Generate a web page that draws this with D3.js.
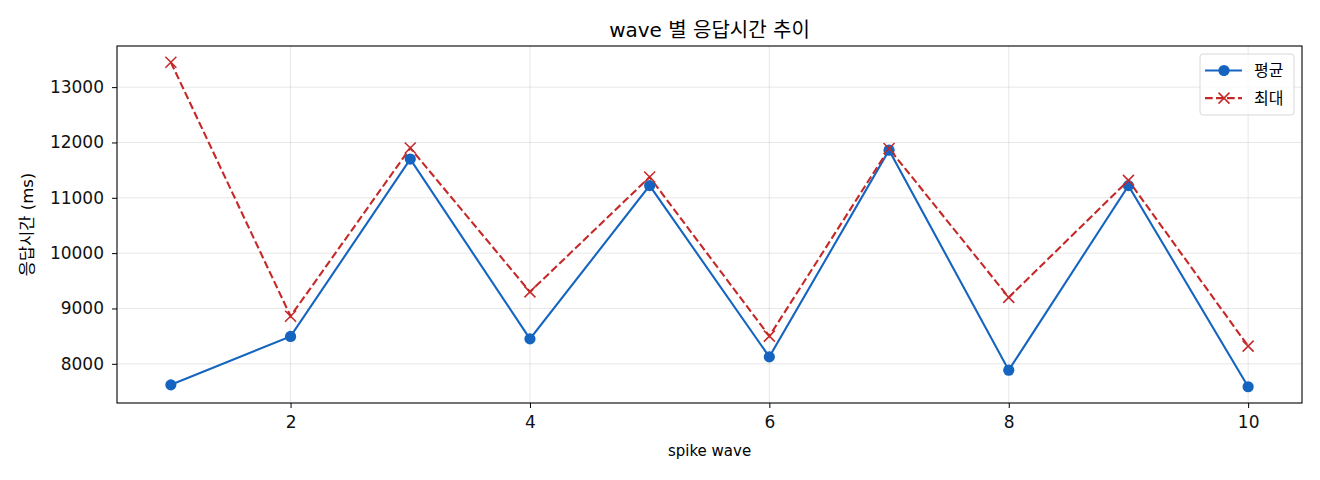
<!DOCTYPE html>
<meta charset="utf-8">
<head>
<style>
  body { margin: 0; background: #fff; }
  text { font-family: "DejaVu Sans", "Noto Sans CJK KR", sans-serif; fill: #000; }
  .axis path, .axis line { stroke: #000; }
  .axis text { font-size: 17px; fill: #111; }
</style>
</head>
<body>
<script src="https://cdnjs.cloudflare.com/ajax/libs/d3/7.8.5/d3.min.js"></script>
<script>

const waves = [1, 2, 3, 4, 5, 6, 7, 8, 9, 10];
const avgMs = [7620, 8495, 11700, 8450, 11220, 8125, 11860, 7885, 11220, 7585];
const maxMs = [13450, 8860, 11900, 9300, 11375, 8500, 11890, 9200, 11315, 8320];
const xTicks = [2, 4, 6, 8, 10];
const yTicks = [8000, 9000, 10000, 11000, 12000, 13000];
const seriesNames = ["평균", "최대"];

const W = 1320, H = 480;
const margin = {top: 46, right: 18, bottom: 77, left: 117};
const width = W - margin.left - margin.right,
      height = H - margin.top - margin.bottom;

const blue = "#1565c0", red = "#c62828";

// matplotlib style 5% margins
const xPad = (d3.max(waves) - d3.min(waves)) * 0.05;
const allY = avgMs.concat(maxMs);
const yPad = (d3.max(allY) - d3.min(allY)) * 0.05;

const x = d3.scaleLinear()
  .domain([d3.min(waves) - xPad, d3.max(waves) + xPad])
  .range([0, width]);
const y = d3.scaleLinear()
  .domain([d3.min(allY) - yPad, d3.max(allY) + yPad])
  .range([height, 0]);

const svg = d3.select("body").append("svg")
  .attr("width", W)
  .attr("height", H);

const g = svg.append("g")
  .attr("transform", "translate(" + margin.left + "," + margin.top + ")");

// grid
g.append("g").selectAll("line").data(yTicks).join("line")
  .attr("x1", 0).attr("x2", width)
  .attr("y1", d => y(d)).attr("y2", d => y(d))
  .attr("stroke", "#b0b0b0").attr("stroke-opacity", 0.3).attr("stroke-width", 1);
g.append("g").selectAll("line").data(xTicks).join("line")
  .attr("y1", 0).attr("y2", height)
  .attr("x1", d => x(d)).attr("x2", d => x(d))
  .attr("stroke", "#b0b0b0").attr("stroke-opacity", 0.3).attr("stroke-width", 1);

// axes
const xAxis = d3.axisBottom(x).tickValues(xTicks).tickSize(5).tickPadding(8).tickFormat(d3.format("d"));
const yAxis = d3.axisLeft(y).tickValues(yTicks).tickSize(5).tickPadding(8).tickFormat(d3.format("d"));

g.append("g").attr("class", "axis")
  .attr("transform", "translate(0," + height + ")")
  .call(xAxis)
  .call(s => s.select(".domain").remove())
  .selectAll("text").attr("font-size", null).attr("font-family", null).attr("fill", null);

g.append("g").attr("class", "axis")
  .call(yAxis)
  .call(s => s.select(".domain").remove())
  .selectAll("text").attr("font-size", null).attr("font-family", null).attr("fill", null);

// frame
g.append("rect")
  .attr("width", width).attr("height", height)
  .attr("fill", "none").attr("stroke", "#000").attr("stroke-width", 1.1);

// lines
const line = d3.line().x((d, i) => x(waves[i])).y(d => y(d));

g.append("path").datum(avgMs)
  .attr("d", line).attr("fill", "none")
  .attr("stroke", blue).attr("stroke-width", 2.1);

g.append("path").datum(maxMs)
  .attr("d", line).attr("fill", "none")
  .attr("stroke", red).attr("stroke-width", 2.1)
  .attr("stroke-dasharray", "7.7,3.3");

g.append("g").selectAll("circle").data(avgMs).join("circle")
  .attr("cx", (d, i) => x(waves[i])).attr("cy", d => y(d))
  .attr("r", 5.6).attr("fill", blue);

const cross = 5.5;
g.append("g").selectAll("path").data(maxMs).join("path")
  .attr("d", (d, i) => {
    const cx = x(waves[i]), cy = y(d);
    return `M${cx - cross},${cy - cross}L${cx + cross},${cy + cross}M${cx - cross},${cy + cross}L${cx + cross},${cy - cross}`;
  })
  .attr("stroke", red).attr("stroke-width", 1.5).attr("fill", "none");

// titles
svg.append("text")
  .attr("x", margin.left + width / 2).attr("y", 37)
  .attr("text-anchor", "middle").style("font-size", "20px")
  .text("wave 별 응답시간 추이");

svg.append("text")
  .attr("x", margin.left + width / 2).attr("y", 456)
  .attr("text-anchor", "middle").style("font-size", "15px")
  .text("spike wave");

svg.append("text")
  .attr("transform", "translate(33," + (margin.top + height / 2) + ") rotate(-90)")
  .attr("text-anchor", "middle").style("font-size", "16.5px")
  .text("응답시간 (ms)");

// legend
const lg = svg.append("g").attr("transform", "translate(1200,54)");
lg.append("rect")
  .attr("width", 94).attr("height", 61).attr("rx", 3)
  .attr("fill", "#fff").attr("fill-opacity", 0.8)
  .attr("stroke", "#d8d8d8").attr("stroke-width", 1);

const rows = lg.selectAll("g.row").data(seriesNames).join("g")
  .attr("class", "row")
  .attr("transform", (d, i) => "translate(0," + (16.5 + i * 27.6) + ")");

rows.append("line")
  .attr("x1", 5).attr("x2", 42).attr("y1", 0).attr("y2", 0)
  .attr("stroke", (d, i) => i === 0 ? blue : red)
  .attr("stroke-width", 2.1)
  .attr("stroke-dasharray", (d, i) => i === 0 ? null : "7.7,3.3");

rows.filter((d, i) => i === 0).append("circle")
  .attr("cx", 24).attr("cy", 0).attr("r", 5.6).attr("fill", blue);
rows.filter((d, i) => i === 1).append("path")
  .attr("d", `M${24 - cross},${-cross}L${24 + cross},${cross}M${24 - cross},${cross}L${24 + cross},${-cross}`)
  .attr("stroke", red).attr("stroke-width", 1.5);

rows.append("text")
  .attr("x", 54).attr("y", 0).attr("dy", "0.35em")
  .style("font-size", "16px")
  .text(d => d);

</script>
</body>
